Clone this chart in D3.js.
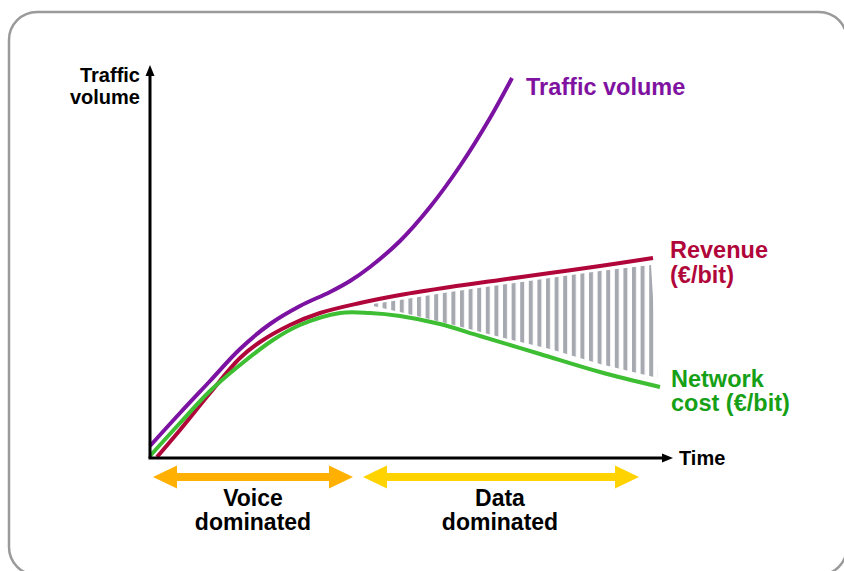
<!DOCTYPE html>
<html>
<head>
<meta charset="utf-8">
<script src="https://cdn.jsdelivr.net/npm/d3@7"></script>
<style>
  body { margin: 0; background: #fff; }
  text { font-family: "Liberation Sans", Arial, sans-serif; font-weight: bold; }
</style>
</head>
<body>
<svg id="chart" width="844" height="571"></svg>
<script>
// time / volume in arbitrary units
const trafficT = [0, 30, 60, 90, 120, 150, 180, 200, 220, 250, 280, 310, 340, 362];
const trafficV = [12, 45, 77, 109, 134, 152, 166, 177, 191, 217, 251, 292, 340, 380];

const revenueT = [7, 30, 60, 90, 110, 140, 170, 210, 250, 300, 350, 400, 450, 503];
const revenueV = [1, 28, 65, 100, 116, 133, 145, 155, 163, 171, 178, 185, 192, 200];

const costT = [0, 30, 60, 90, 123, 150, 190, 220, 250, 290, 330, 390, 450, 510];
const costV = [2, 35, 67, 93, 118, 133, 145, 145, 142, 134, 122, 104, 86, 71];

// gap between revenue and cost (the shaded margin)
const gapT = [223, 250, 300, 350, 400, 450, 501];
const gapTop = [154, 158, 166, 173, 180, 187, 193];
const gapBottom = [152, 146, 134, 121, 109, 94, 80];

// phases along the time axis
const phaseNames = [["Voice", "dominated"], ["Data", "dominated"]];
const phaseStart = [3, 213];
const phaseEnd = [203, 489];
const phaseColors = ["#FFB000", "#FFD300"];

const paper = d3.select("#chart");

const x = d3.scaleLinear().domain([0, 520]).range([150, 670]);
const y = d3.scaleLinear().domain([0, 390]).range([458, 68]);

// rounded frame
paper.append("rect")
    .attr("x", 9).attr("y", 12)
    .attr("width", 838).attr("height", 563)
    .attr("rx", 28)
    .attr("fill", "none")
    .attr("stroke", "#9a9a9a")
    .attr("stroke-width", 2.5);

// stripe pattern for the margin
const defs = paper.append("defs");
const pat = defs.append("pattern")
    .attr("id", "stripes")
    .attr("patternUnits", "userSpaceOnUse")
    .attr("x", x(gapT[0]) + 1).attr("y", 0)
    .attr("width", 8.6).attr("height", 10);
pat.append("rect")
    .attr("width", 4).attr("height", 10)
    .attr("fill", "#a7a9b1");

const gapPts = gapT.map((t, i) => [t, gapTop[i]])
    .concat(gapT.map((t, i) => [i === gapT.length - 1 ? t + 7 : t, gapBottom[i]]).reverse());

paper.append("path")
    .attr("d", d3.line().x(d => x(d[0])).y(d => y(d[1]))(gapPts) + "Z")
    .attr("fill", "url(#stripes)");

// curves
const line = d3.line()
    .x(d => x(d[0]))
    .y(d => y(d[1]))
    .curve(d3.curveCatmullRom.alpha(0.5));

function drawSeries(ts, vs, color) {
    paper.append("path")
        .attr("d", line(ts.map((t, i) => [t, vs[i]])))
        .attr("fill", "none")
        .attr("stroke", color)
        .attr("stroke-width", 4)
        .attr("stroke-linecap", "butt");
}

drawSeries(revenueT, revenueV, "#B0063A");
drawSeries(trafficT, trafficV, "#7B12A1");
drawSeries(costT, costV, "#3DBE33");

// axes with arrow heads
const axisG = paper.append("g");
axisG.append("line")
    .attr("x1", x(0)).attr("y1", y(0))
    .attr("x2", x(0)).attr("y2", y(390) + 6)
    .attr("stroke", "#000").attr("stroke-width", 3);
axisG.append("path")
    .attr("d", `M${x(0) - 4.5},${y(390) + 8} L${x(0)},${y(390) - 3} L${x(0) + 4.5},${y(390) + 8}Z`)
    .attr("fill", "#000");
axisG.append("line")
    .attr("x1", x(0) - 1.5).attr("y1", y(0))
    .attr("x2", x(520) - 6).attr("y2", y(0))
    .attr("stroke", "#000").attr("stroke-width", 3);
axisG.append("path")
    .attr("d", `M${x(520) - 8},${y(0) - 4.5} L${x(520) + 3},${y(0)} L${x(520) - 8},${y(0) + 4.5}Z`)
    .attr("fill", "#000");

// axis labels
paper.append("text")
    .attr("x", 140).attr("y", 82)
    .attr("text-anchor", "end")
    .attr("font-size", 20)
    .text("Traffic");
paper.append("text")
    .attr("x", 140).attr("y", 104)
    .attr("text-anchor", "end")
    .attr("font-size", 20)
    .text("volume");

paper.append("text")
    .attr("x", 679).attr("y", 465)
    .attr("font-size", 20)
    .text("Time");

// series labels
paper.append("text")
    .attr("x", 526).attr("y", 95)
    .attr("font-size", 23.5)
    .attr("fill", "#7F12A0")
    .text("Traffic volume");

const revLab = paper.append("text")
    .attr("font-size", 23.5)
    .attr("fill", "#B0063A");
revLab.append("tspan").attr("x", 670).attr("y", 258).text("Revenue");
revLab.append("tspan").attr("x", 670).attr("y", 283).text("(€/bit)");

const costLab = paper.append("text")
    .attr("font-size", 23.5)
    .attr("fill", "#16A016");
costLab.append("tspan").attr("x", 671).attr("y", 387).text("Network");
costLab.append("tspan").attr("x", 671).attr("y", 411).text("cost (€/bit)");

// phase arrows
const arrowY = y(-19);
phaseNames.forEach((name, i) => {
    const x0 = x(phaseStart[i]), x1 = x(phaseEnd[i]);
    const hl = 24, hh = 11.5, sh = 4;
    const pts = [
        [x0, arrowY], [x0 + hl, arrowY - hh], [x0 + hl, arrowY - sh],
        [x1 - hl, arrowY - sh], [x1 - hl, arrowY - hh], [x1, arrowY],
        [x1 - hl, arrowY + hh], [x1 - hl, arrowY + sh], [x0 + hl, arrowY + sh],
        [x0 + hl, arrowY + hh]
    ];
    paper.append("path")
        .attr("d", d3.line()(pts) + "Z")
        .attr("fill", phaseColors[i]);

    const cx = (x0 + x1) / 2 + (i === 0 ? 0 : -1);
    paper.append("text")
        .attr("x", cx).attr("y", 506)
        .attr("text-anchor", "middle")
        .attr("font-size", 23)
        .text(name[0]);
    paper.append("text")
        .attr("x", cx).attr("y", 530)
        .attr("text-anchor", "middle")
        .attr("font-size", 23)
        .text(name[1]);
});
</script>
</body>
</html>
